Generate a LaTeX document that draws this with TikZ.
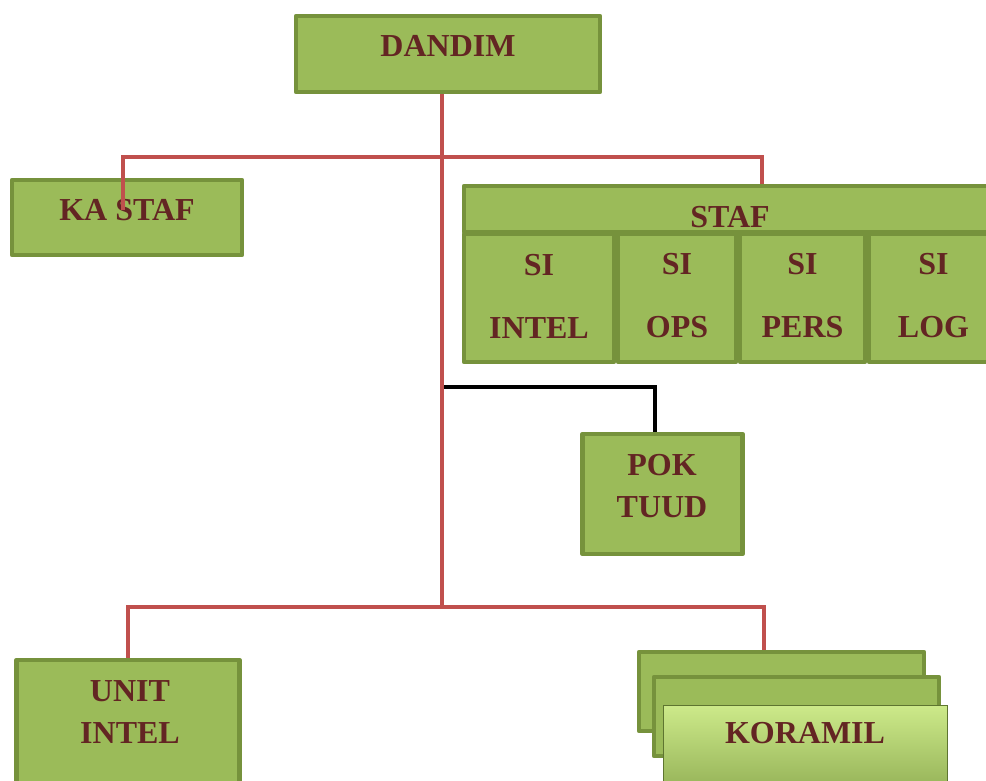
\documentclass[tikz,border=0pt]{standalone}
\usepackage{fontspec}
\setmainfont{Liberation Serif}
\usetikzlibrary{positioning}
\definecolor{boxfill}{HTML}{9BBB59}
\definecolor{boxedge}{HTML}{76923C}
\definecolor{boxtext}{HTML}{632523}
\definecolor{boxlight}{HTML}{CDEA8A}
\definecolor{boxmid}{HTML}{A2C656}
\definecolor{linkred}{HTML}{C0504D}
\begin{document}
\begin{tikzpicture}[x=1pt,y=-1pt,
  unitbox/.style={draw=boxedge,fill=boxfill,line width=4.5pt,line join=round,inner sep=0pt},
  frontbox/.style={draw=boxedge!80!black,top color=boxlight,middle color=boxmid,bottom color=boxfill!92!black,line width=1pt,inner sep=0pt},
  lbl/.style={text=boxtext,font=\fontsize{32}{42}\selectfont\bfseries,align=center,inner sep=0pt},
  redlink/.style={draw=linkred,line width=4pt},
  blacklink/.style={draw=black,line width=4.5pt}]
\clip (0,0) rectangle (986,781);
\node[unitbox,minimum width=304,minimum height=76] (dandim) at (448,54) {};
\node[lbl] (dandim-t) at (448,46) {DANDIM};
\node[unitbox,minimum width=230,minimum height=75] (kastaf) at (127,217.5) {};
\node[lbl] (kastaf-t) at (127,210) {KA STAF};
\node[unitbox,minimum width=534,minimum height=46] (staf) at (731,209) {};
\node[lbl] (staf-t) at (730,217) {STAF};
\foreach \nm/\xl/\xr/\txt in {intel/462/616/INTEL,ops/616/738/OPS,pers/738/867/PERS,log/867/1000/LOG} {
  \node[unitbox,minimum width=\xr-\xl-4,minimum height=128] (si-\nm) at ({(\xl+\xr)/2},298) {};
  \node[lbl] (si-\nm-t) at ({(\xl+\xr)/2},296) {SI\\[21pt]\txt};
}
\node[unitbox,minimum width=160,minimum height=120] (pok) at (662.5,494) {};
\node[lbl] (pok-t) at (662,486) {POK\\TUUD};
\node[unitbox,minimum width=223,minimum height=138] (unit) at (128,729) {};
\node[lbl] (unit-t) at (130,712) {UNIT\\INTEL};
\node[unitbox,minimum width=285,minimum height=79] (kor-a) at (781.5,691.5) {};
\node[unitbox,minimum width=285,minimum height=79] (kor-b) at (796.5,716.5) {};
\node[frontbox,minimum width=284,minimum height=95] (kor) at (805,752.5) {};
\node[lbl] (kor-t) at (805,733) {KORAMIL};
\coordinate (trunk-top) at (442,157);
\coordinate (trunk-pok) at (442,387);
\coordinate (trunk-bot) at (442,607);
\coordinate (ka-in) at (123,210);
\coordinate (st-in) at (762,184);
\coordinate (pok-in) at (655,432);
\coordinate (kor-in) at (764,650);
\draw[blacklink] (trunk-pok) -| (pok-in);
\draw[redlink] (dandim.south -| trunk-top) -- (trunk-bot);
\draw[redlink] (ka-in) |- (trunk-top) -| (st-in);
\draw[redlink] (unit.north) |- (trunk-bot) -| (kor-in);
\end{tikzpicture}
\end{document}
